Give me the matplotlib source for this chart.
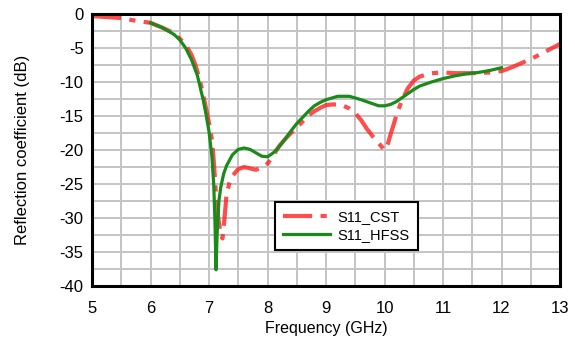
import numpy as np
import matplotlib
matplotlib.use("Agg")
import matplotlib.pyplot as plt

# CST simulation
freq_cst = [5.0, 5.25, 5.5, 5.75, 6.0, 6.2, 6.35, 6.5, 6.62, 6.7, 6.76, 6.82, 6.87,
            6.93, 6.99, 7.05, 7.08, 7.12, 7.15, 7.2, 7.23, 7.26, 7.3, 7.35, 7.4, 7.5,
            7.6, 7.7, 7.8, 7.9, 8.0, 8.1, 8.2, 8.3, 8.4, 8.5, 8.6, 8.7, 8.8, 8.9, 9.0,
            9.1, 9.2, 9.3, 9.4, 9.5, 9.6, 9.7, 9.8, 9.9, 10.0, 10.05, 10.1, 10.2, 10.3,
            10.4, 10.5, 10.6, 10.8, 11.0, 11.2, 11.5, 11.8, 12.0, 12.2, 12.4, 12.6,
            12.8, 13.0]
s11_cst = [-0.3, -0.45, -0.6, -1.0, -1.3, -2.0, -2.6, -3.6, -4.8, -6.0, -7.3, -9.0, -10.7,
           -13.1, -15.6, -18.5, -21.5, -26.6, -29.5, -32.5, -33.0, -30.5, -26.5, -24.8, -23.8, -22.8,
           -22.5, -22.7, -22.9, -22.6, -22.0, -20.8, -19.4, -18.4, -17.5, -16.7, -15.8, -14.9, -14.3, -13.8, -13.4,
           -13.3, -13.3, -13.5, -13.9, -14.6, -15.6, -16.9, -18.0, -19.0, -20.0, -19.3, -17.8, -15.0, -12.6,
           -10.9, -9.8, -9.2, -8.7, -8.6, -8.7, -8.7, -8.6, -8.4, -7.75, -7.0, -6.2,
           -5.3, -4.4]

# HFSS simulation
freq_hfss = [6.0, 6.2, 6.4, 6.5, 6.6, 6.7, 6.8, 6.9, 6.95, 7.0, 7.05, 7.08, 7.1, 7.12,
             7.14, 7.17, 7.2, 7.25, 7.3, 7.4, 7.5, 7.6, 7.7, 7.8, 7.9, 8.0, 8.1, 8.2,
             8.3, 8.4, 8.5, 8.6, 8.7, 8.8, 8.9, 9.0, 9.2, 9.4, 9.6, 9.8, 9.9, 10.0,
             10.1, 10.2, 10.3, 10.4, 10.5, 10.6, 10.8, 11.0, 11.2, 11.4, 11.6, 11.8, 12.0]
s11_hfss = [-1.3, -2.0, -3.0, -3.8, -5.0, -6.7, -9.0, -12.6, -14.8, -17.3, -21.0, -25.0, -30.0, -37.6,
            -32.0, -27.4, -25.5, -23.5, -22.3, -20.7, -19.9, -19.7, -19.9, -20.4, -20.9, -21.0, -20.4, -19.5,
            -18.4, -17.2, -16.1, -15.2, -14.3, -13.5, -13.0, -12.6, -12.1, -12.1, -12.6, -13.2, -13.5, -13.5,
            -13.3, -12.9, -12.3, -11.7, -11.1, -10.6, -10.0, -9.5, -9.1, -8.8, -8.6, -8.3, -7.9]

plt.rcParams['font.family'] = ['Liberation Sans', 'DejaVu Sans']

fig = plt.figure(figsize=(5.75, 3.41), dpi=100)
ax = fig.add_axes([0.16, 0.161, 0.814, 0.798])

ax.plot(freq_cst, s11_cst, color='#ff2020', alpha=0.8, lw=3.0,
        dashes=(7, 2, 1.5, 2), label='S11_CST')
ax.plot(freq_hfss, s11_hfss, color='#1a8a1a', lw=2.3, label='S11_HFSS')

ax.set_xlim(5, 13)
ax.set_ylim(-40, 0)
ax.set_xticks(np.arange(5, 14, 1))
ax.set_yticks(np.arange(-40, 1, 5))
ax.set_xticks(np.arange(5, 13.01, 0.5), minor=True)
ax.set_yticks(np.arange(-40, 0.01, 2.5), minor=True)
ax.grid(True, which='both', color='#c4c4c4', lw=1.4)
ax.set_axisbelow(True)
ax.tick_params(which='both', length=0, labelsize=12)
ax.tick_params(axis='x', pad=11)
ax.tick_params(axis='y', pad=6)
ax.set_yticklabels([str(v) for v in range(-40, 1, 5)])
for s in ax.spines.values():
    s.set_linewidth(2.2)

ax.set_xlabel('Frequency (GHz)', fontsize=11.5, labelpad=3)
ax.set_ylabel('Reflection coefficient (dB)', fontsize=12, labelpad=21)

leg = ax.legend(loc='upper left', bbox_to_anchor=(0.391, 0.309), fontsize=10.5,
                fancybox=False, framealpha=1, edgecolor='black',
                handlelength=3.2, handletextpad=0.55, borderpad=0.55,
                labelspacing=0.25, borderaxespad=0)
leg.get_frame().set_linewidth(1.5)

plt.savefig('out.png', dpi=100)
